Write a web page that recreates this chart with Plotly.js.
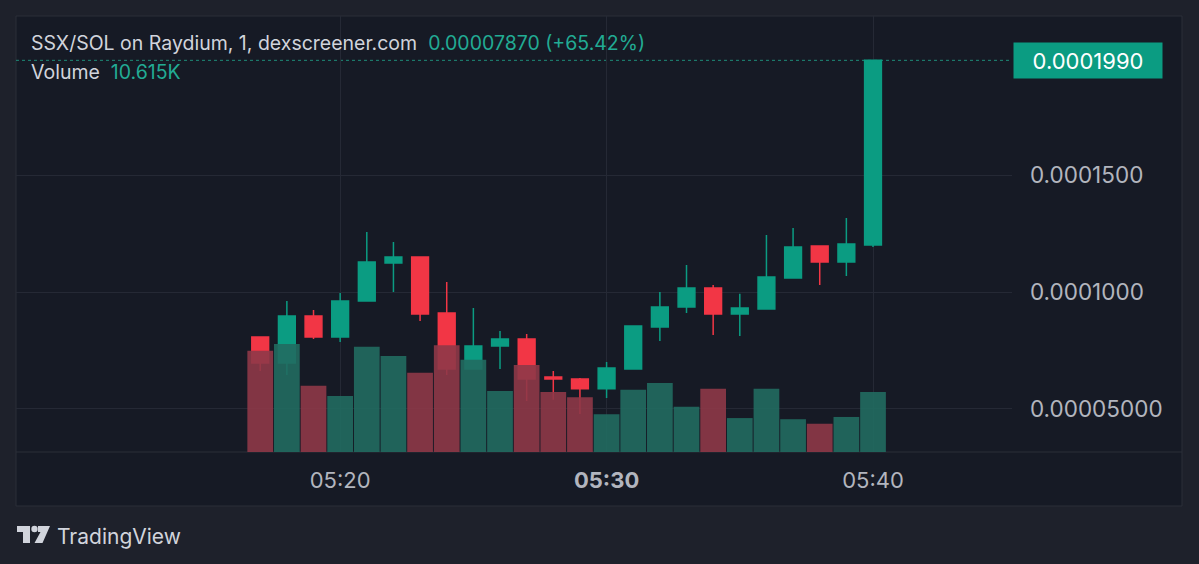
<!DOCTYPE html>
<html>
<head>
<meta charset="utf-8">
<script src="https://cdn.plot.ly/plotly-3.0.1.min.js"></script>
<style>
html,body{margin:0;padding:0;background:#1e212b;}
#chart{width:1199px;height:564px;}
</style>
</head>
<body>
<div id="chart"></div>
<script>
// ---- data ----
const times = ['05:17','05:18','05:19','05:20','05:21','05:22','05:23','05:24','05:25','05:26','05:27','05:28',
               '05:29','05:30','05:31','05:32','05:33','05:34','05:35','05:36','05:37','05:38','05:39','05:40'];
const openP  = [0.0000808,0.0000697,0.0000897,0.0000808,0.0000962,0.0001124,0.0001150,0.0000910,0.0000671,0.0000769,0.0000799,0.0000637,
                0.0000628,0.0000586,0.0000671,0.0000850,0.0000936,0.0001017,0.0000906,0.0000927,0.0001060,0.0001197,0.0001128,0.0001201];
const highP  = [0.0000808,0.0000962,0.0000923,0.0000996,0.0001256,0.0001214,0.0001150,0.0001043,0.0000932,0.0000833,0.0000821,0.0000662,
                0.0000632,0.0000701,0.0000855,0.0001000,0.0001115,0.0001030,0.0000992,0.0001244,0.0001274,0.0001197,0.0001316,0.0001990];
const lowP   = [0.0000662,0.0000645,0.0000799,0.0000786,0.0000962,0.0001000,0.0000876,0.0000645,0.0000671,0.0000671,0.0000534,0.0000539,
                0.0000479,0.0000547,0.0000671,0.0000791,0.0000910,0.0000816,0.0000812,0.0000927,0.0001060,0.0001030,0.0001068,0.0001192];
const closeP = [0.0000697,0.0000897,0.0000808,0.0000962,0.0001128,0.0001150,0.0000906,0.0000671,0.0000769,0.0000799,0.0000628,0.0000628,
                0.0000586,0.0000675,0.0000855,0.0000936,0.0001017,0.0000906,0.0000932,0.0001064,0.0001192,0.0001128,0.0001205,0.0001990];
const volume = [17900,19100,11700,9900,18600,17000,14000,18900,16300,10800,15400,10600,
                9700,6700,11000,12200,8000,11200,6000,11200,5800,5000,6200,10615];
const tickTimes = ['05:20','05:30','05:40'];
const tickLabels = ['05:20','<b>05:30</b>','05:40'];
const priceTicks = [0.00005,0.0001,0.00015];
const priceTickLabels = ['0.00005000','0.0001000','0.0001500'];
const headerText = 'SSX/SOL on Raydium, 1, dexscreener.com';
const headerValue = '0.00007870 (+65.42%)';
const volumeText = '10.615K';

// ---- styling ----
const GREEN = '#0b9c82', RED = '#f23645';
const VOL_G = 'rgba(33,108,97,0.9)', VOL_R = 'rgba(142,57,72,0.9)';
const day = '2024-01-01 ';
const xs = times.map(t => day + t);

const L = 16, T = 16, W = 996, H = 436;
const px = x => (x - L) / W;
const py = y => (T + H - y) / H;
const path = pts => 'M' + pts.map(p => px(p[0]) + ',' + py(p[1])).join(' L') + ' Z';

const candles = {
  type: 'candlestick', x: xs, open: openP, high: highP, low: lowP, close: closeP,
  increasing: {line: {color: GREEN, width: 1.5}, fillcolor: GREEN},
  decreasing: {line: {color: RED, width: 1.5}, fillcolor: RED},
  whiskerwidth: 0, hoverinfo: 'skip', showlegend: false, yaxis: 'y'
};
const vols = {
  type: 'bar', x: xs, y: volume, yaxis: 'y2',
  marker: {color: closeP.map((c, i) => c >= openP[i] ? VOL_G : VOL_R), line: {width: 0}},
  hoverinfo: 'skip', showlegend: false
};

const FONT = 'Inter, Roboto, "DejaVu Sans", sans-serif';
const last = closeP[closeP.length - 1];

const layout = {
  width: 1199, height: 564,
  margin: {l: L, r: 1199 - L - W, t: T, b: 564 - T - H, pad: 0},
  paper_bgcolor: '#1e212b', plot_bgcolor: 'rgba(0,0,0,0)',
  font: {family: FONT, color: '#b2b5be'},
  boxgap: 0.1, bargap: 0.035,
  xaxis: {
    type: 'date', range: [day + '05:07:50', day + '05:45:13'],
    tickvals: tickTimes.map(t => day + t), ticktext: tickLabels,
    showgrid: true, gridcolor: '#252935', gridwidth: 1,
    zeroline: false, showline: false, ticks: '', ticklabelstandoff: 13,
    tickfont: {size: 22, color: '#b2b5be', family: FONT},
    rangeslider: {visible: false}, fixedrange: true
  },
  yaxis: {
    range: [0.00003162, 0.00021795], side: 'right',
    tickvals: priceTicks, ticktext: priceTickLabels,
    showgrid: true, gridcolor: '#252935', gridwidth: 1,
    zeroline: false, showline: false, ticks: '', ticklabelstandoff: 17,
    tickfont: {size: 22.5, color: '#b2b5be', family: FONT}, fixedrange: true
  },
  yaxis2: {
    overlaying: 'y', range: [0, 77130], visible: false, fixedrange: true
  },
  shapes: [
    {type: 'rect', xref: 'paper', yref: 'paper', x0: px(16), x1: px(1182), y0: py(16), y1: py(506),
     fillcolor: '#161a25', line: {color: '#2a2e39', width: 1}, layer: 'below'},
    {type: 'line', xref: 'paper', yref: 'paper', x0: px(16), x1: px(1182), y0: py(452), y1: py(452),
     line: {color: '#2a2e39', width: 1}, layer: 'below'},
    {type: 'line', xref: 'paper', yref: 'y', x0: 0, x1: 1, y0: last, y1: last,
     line: {color: '#1f8c79', width: 1, dash: 'dot'}, layer: 'below'},
    // TradingView logo
    {type: 'path', xref: 'paper', yref: 'paper', path: path([[17,526],[30,526],[30,543],[23,543],[23,532],[17,532]]),
     fillcolor: '#d1d4dc', line: {width: 0}},
    {type: 'circle', xref: 'paper', yref: 'paper', x0: px(31.3), x1: px(37.7), y0: py(525.8), y1: py(532.2),
     fillcolor: '#d1d4dc', line: {width: 0}},
    {type: 'path', xref: 'paper', yref: 'paper', path: path([[38,526],[50,526],[42.5,543],[34.5,543],[40.5,532],[38,532]]),
     fillcolor: '#d1d4dc', line: {width: 0}}
  ],
  annotations: [
    {xref: 'paper', yref: 'paper', x: px(29), y: py(43), xanchor: 'left', yanchor: 'middle', showarrow: false,
     text: headerText + '  <span style="color:#22ab94">' + headerValue + '</span>',
     font: {size: 19.5, color: '#d1d4dc', family: FONT}},
    {xref: 'paper', yref: 'paper', x: px(29), y: py(72), xanchor: 'left', yanchor: 'middle', showarrow: false,
     text: 'Volume  <span style="color:#22ab94">' + volumeText + '</span>',
     font: {size: 19.5, color: '#d1d4dc', family: FONT}},
    {xref: 'paper', yref: 'y', x: px(1013), y: last, xanchor: 'left', yanchor: 'middle', showarrow: false,
     text: last.toFixed(7), bgcolor: GREEN, width: 142, height: 29, borderpad: 3, align: 'center',
     font: {size: 22, color: '#ffffff', family: FONT}},
    {xref: 'paper', yref: 'paper', x: px(55), y: py(536), xanchor: 'left', yanchor: 'middle', showarrow: false,
     text: 'TradingView', font: {size: 21, color: '#d1d4dc', family: FONT}}
  ]
};

Plotly.newPlot('chart', [candles, vols], layout, {staticPlot: true, displayModeBar: false});
</script>
</body>
</html>
